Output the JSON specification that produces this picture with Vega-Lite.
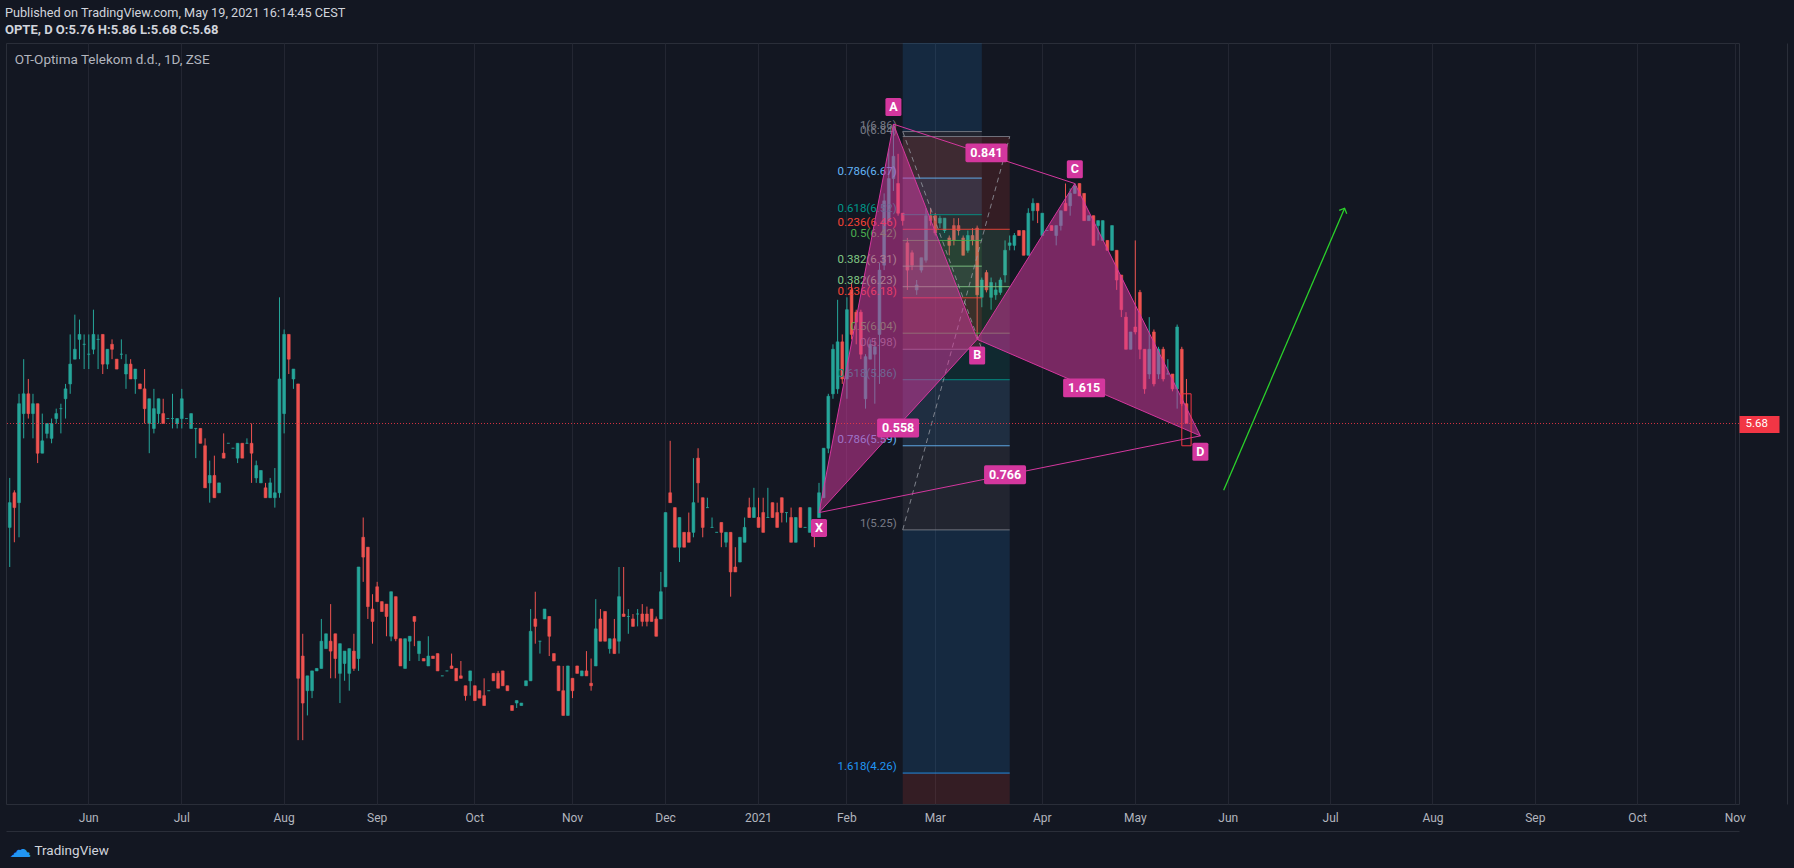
{
"$schema": "https://vega.github.io/schema/vega-lite/v6.json",
"autosize": {"type": "none"},
"width": 1733,
"height": 761,
"padding": {"left": 6, "top": 43, "right": 55, "bottom": 64},
"background": "#131722",
"config": {"view": {"stroke": "#2a2e39", "strokeWidth": 1}, "font": "Roboto"},
"title": {"text": "Published on TradingView.com, May 19, 2021 16:14:45 CEST", "subtitle": "OPTE, D  O:5.76  H:5.86  L:5.68  C:5.68", "anchor": "start", "frame": "group", "orient": "top", "offset": 6, "dx": -1, "font": "Roboto", "fontSize": 12.7, "fontWeight": "normal", "color": "#d1d4dc", "subtitleFont": "Roboto", "subtitleFontSize": 13, "subtitleFontWeight": "bold", "subtitleColor": "#d1d4dc", "subtitlePadding": 4},
"datasets": {
"candles": [
{"d":"2020-05-07","o":5.26,"h":5.46,"l":5.10,"c":5.36},
{"d":"2020-05-08","o":5.40,"h":5.41,"l":5.20,"c":5.34},
{"d":"2020-05-11","o":5.36,"h":5.80,"l":5.22,"c":5.76},
{"d":"2020-05-12","o":5.72,"h":5.94,"l":5.62,"c":5.80},
{"d":"2020-05-13","o":5.80,"h":5.86,"l":5.70,"c":5.72},
{"d":"2020-05-14","o":5.72,"h":5.80,"l":5.62,"c":5.76},
{"d":"2020-05-15","o":5.76,"h":5.76,"l":5.52,"c":5.56},
{"d":"2020-05-18","o":5.56,"h":5.72,"l":5.56,"c":5.61},
{"d":"2020-05-19","o":5.64,"h":5.68,"l":5.62,"c":5.68},
{"d":"2020-05-20","o":5.62,"h":5.70,"l":5.60,"c":5.68},
{"d":"2020-05-21","o":5.70,"h":5.74,"l":5.68,"c":5.72},
{"d":"2020-05-22","o":5.74,"h":5.76,"l":5.64,"c":5.74},
{"d":"2020-05-25","o":5.78,"h":5.84,"l":5.70,"c":5.82},
{"d":"2020-05-26","o":5.84,"h":6.04,"l":5.80,"c":5.92},
{"d":"2020-05-27","o":5.94,"h":6.12,"l":5.94,"c":5.98},
{"d":"2020-05-28","o":6.02,"h":6.10,"l":5.94,"c":6.04},
{"d":"2020-05-29","o":6.00,"h":6.04,"l":5.90,"c":6.00},
{"d":"2020-06-01","o":5.96,"h":6.04,"l":5.90,"c":5.96},
{"d":"2020-06-02","o":5.98,"h":6.14,"l":5.96,"c":6.04},
{"d":"2020-06-03","o":6.02,"h":6.04,"l":5.90,"c":6.02},
{"d":"2020-06-04","o":6.04,"h":6.04,"l":5.88,"c":5.92},
{"d":"2020-06-05","o":5.92,"h":5.98,"l":5.90,"c":5.98},
{"d":"2020-06-08","o":6.00,"h":6.02,"l":5.94,"c":5.98},
{"d":"2020-06-09","o":5.94,"h":5.94,"l":5.90,"c":5.90},
{"d":"2020-06-10","o":5.96,"h":6.02,"l":5.94,"c":5.96},
{"d":"2020-06-12","o":5.88,"h":5.96,"l":5.82,"c":5.92},
{"d":"2020-06-15","o":5.92,"h":5.94,"l":5.86,"c":5.86},
{"d":"2020-06-16","o":5.86,"h":5.90,"l":5.80,"c":5.90},
{"d":"2020-06-17","o":5.84,"h":5.84,"l":5.82,"c":5.82},
{"d":"2020-06-18","o":5.82,"h":5.90,"l":5.68,"c":5.74},
{"d":"2020-06-19","o":5.68,"h":5.78,"l":5.56,"c":5.78},
{"d":"2020-06-23","o":5.66,"h":5.82,"l":5.64,"c":5.74},
{"d":"2020-06-24","o":5.72,"h":5.78,"l":5.68,"c":5.78},
{"d":"2020-06-25","o":5.72,"h":5.78,"l":5.68,"c":5.68},
{"d":"2020-06-26","o":5.70,"h":5.70,"l":5.70,"c":5.70},
{"d":"2020-06-29","o":5.70,"h":5.80,"l":5.66,"c":5.70},
{"d":"2020-06-30","o":5.68,"h":5.70,"l":5.66,"c":5.70},
{"d":"2020-07-01","o":5.70,"h":5.82,"l":5.66,"c":5.78},
{"d":"2020-07-02","o":5.70,"h":5.70,"l":5.70,"c":5.70},
{"d":"2020-07-03","o":5.66,"h":5.72,"l":5.66,"c":5.72},
{"d":"2020-07-06","o":5.66,"h":5.66,"l":5.54,"c":5.66},
{"d":"2020-07-07","o":5.66,"h":5.66,"l":5.60,"c":5.60},
{"d":"2020-07-08","o":5.59,"h":5.62,"l":5.42,"c":5.42},
{"d":"2020-07-09","o":5.44,"h":5.53,"l":5.36,"c":5.47},
{"d":"2020-07-10","o":5.47,"h":5.55,"l":5.38,"c":5.38},
{"d":"2020-07-13","o":5.40,"h":5.44,"l":5.40,"c":5.44},
{"d":"2020-07-14","o":5.56,"h":5.64,"l":5.54,"c":5.54},
{"d":"2020-07-15","o":5.60,"h":5.60,"l":5.60,"c":5.60},
{"d":"2020-07-16","o":5.58,"h":5.58,"l":5.58,"c":5.58},
{"d":"2020-07-20","o":5.54,"h":5.60,"l":5.52,"c":5.60},
{"d":"2020-07-21","o":5.60,"h":5.60,"l":5.54,"c":5.54},
{"d":"2020-07-22","o":5.60,"h":5.62,"l":5.60,"c":5.60},
{"d":"2020-07-23","o":5.60,"h":5.68,"l":5.44,"c":5.56},
{"d":"2020-07-24","o":5.46,"h":5.53,"l":5.44,"c":5.51},
{"d":"2020-07-27","o":5.44,"h":5.49,"l":5.44,"c":5.49},
{"d":"2020-07-28","o":5.42,"h":5.44,"l":5.38,"c":5.38},
{"d":"2020-07-29","o":5.38,"h":5.46,"l":5.38,"c":5.44},
{"d":"2020-07-30","o":5.38,"h":5.50,"l":5.34,"c":5.40},
{"d":"2020-07-31","o":5.40,"h":6.19,"l":5.38,"c":5.86},
{"d":"2020-08-03","o":5.72,"h":6.06,"l":5.64,"c":6.04},
{"d":"2020-08-04","o":6.04,"h":6.04,"l":5.88,"c":5.94},
{"d":"2020-08-06","o":5.86,"h":5.90,"l":5.82,"c":5.90},
{"d":"2020-08-07","o":5.84,"h":5.84,"l":4.40,"c":4.65},
{"d":"2020-08-10","o":4.74,"h":4.83,"l":4.40,"c":4.55},
{"d":"2020-08-11","o":4.60,"h":4.66,"l":4.50,"c":4.66},
{"d":"2020-08-12","o":4.60,"h":4.68,"l":4.57,"c":4.68},
{"d":"2020-08-13","o":4.68,"h":4.69,"l":4.68,"c":4.69},
{"d":"2020-08-14","o":4.69,"h":4.89,"l":4.69,"c":4.80},
{"d":"2020-08-17","o":4.77,"h":4.83,"l":4.77,"c":4.83},
{"d":"2020-08-18","o":4.80,"h":4.95,"l":4.65,"c":4.76},
{"d":"2020-08-19","o":4.83,"h":4.83,"l":4.65,"c":4.73},
{"d":"2020-08-20","o":4.67,"h":4.79,"l":4.55,"c":4.79},
{"d":"2020-08-21","o":4.71,"h":4.76,"l":4.64,"c":4.76},
{"d":"2020-08-24","o":4.67,"h":4.77,"l":4.60,"c":4.77},
{"d":"2020-08-25","o":4.76,"h":4.83,"l":4.68,"c":4.69},
{"d":"2020-08-26","o":4.73,"h":5.10,"l":4.68,"c":5.10},
{"d":"2020-08-27","o":5.22,"h":5.30,"l":5.04,"c":5.14},
{"d":"2020-08-28","o":5.18,"h":5.18,"l":4.89,"c":4.94},
{"d":"2020-08-31","o":4.93,"h":4.99,"l":4.79,"c":4.88},
{"d":"2020-09-01","o":5.02,"h":5.04,"l":4.96,"c":4.96},
{"d":"2020-09-02","o":4.96,"h":4.96,"l":4.92,"c":4.92},
{"d":"2020-09-03","o":4.95,"h":4.95,"l":4.82,"c":4.90},
{"d":"2020-09-04","o":4.82,"h":5.00,"l":4.80,"c":5.00},
{"d":"2020-09-07","o":4.98,"h":4.98,"l":4.80,"c":4.81},
{"d":"2020-09-08","o":4.81,"h":4.81,"l":4.70,"c":4.70},
{"d":"2020-09-09","o":4.69,"h":4.81,"l":4.69,"c":4.81},
{"d":"2020-09-10","o":4.80,"h":4.82,"l":4.72,"c":4.82},
{"d":"2020-09-11","o":4.90,"h":4.90,"l":4.78,"c":4.88},
{"d":"2020-09-14","o":4.75,"h":4.80,"l":4.72,"c":4.80},
{"d":"2020-09-16","o":4.73,"h":4.73,"l":4.72,"c":4.72},
{"d":"2020-09-17","o":4.70,"h":4.82,"l":4.70,"c":4.74},
{"d":"2020-09-18","o":4.74,"h":4.74,"l":4.73,"c":4.73},
{"d":"2020-09-21","o":4.75,"h":4.75,"l":4.68,"c":4.68},
{"d":"2020-09-22","o":4.66,"h":4.66,"l":4.66,"c":4.66},
{"d":"2020-09-23","o":4.68,"h":4.68,"l":4.68,"c":4.68},
{"d":"2020-09-24","o":4.70,"h":4.75,"l":4.69,"c":4.69},
{"d":"2020-09-25","o":4.69,"h":4.69,"l":4.64,"c":4.64},
{"d":"2020-09-28","o":4.66,"h":4.72,"l":4.65,"c":4.65},
{"d":"2020-09-29","o":4.62,"h":4.62,"l":4.56,"c":4.58},
{"d":"2020-09-30","o":4.64,"h":4.68,"l":4.58,"c":4.68},
{"d":"2020-10-01","o":4.62,"h":4.62,"l":4.56,"c":4.56},
{"d":"2020-10-02","o":4.60,"h":4.60,"l":4.57,"c":4.57},
{"d":"2020-10-05","o":4.58,"h":4.65,"l":4.54,"c":4.54},
{"d":"2020-10-06","o":4.60,"h":4.60,"l":4.60,"c":4.60},
{"d":"2020-10-07","o":4.67,"h":4.67,"l":4.64,"c":4.64},
{"d":"2020-10-08","o":4.67,"h":4.68,"l":4.61,"c":4.61},
{"d":"2020-10-09","o":4.68,"h":4.68,"l":4.62,"c":4.62},
{"d":"2020-10-12","o":4.62,"h":4.62,"l":4.60,"c":4.60},
{"d":"2020-10-13","o":4.54,"h":4.54,"l":4.52,"c":4.52},
{"d":"2020-10-14","o":4.55,"h":4.56,"l":4.53,"c":4.56},
{"d":"2020-10-15","o":4.54,"h":4.55,"l":4.54,"c":4.55},
{"d":"2020-10-16","o":4.62,"h":4.64,"l":4.62,"c":4.64},
{"d":"2020-10-19","o":4.64,"h":4.93,"l":4.64,"c":4.84},
{"d":"2020-10-21","o":4.89,"h":5.00,"l":4.79,"c":4.86},
{"d":"2020-10-22","o":4.80,"h":4.80,"l":4.75,"c":4.80},
{"d":"2020-10-23","o":4.89,"h":4.93,"l":4.89,"c":4.93},
{"d":"2020-10-26","o":4.90,"h":4.90,"l":4.74,"c":4.82},
{"d":"2020-10-27","o":4.75,"h":4.75,"l":4.72,"c":4.72},
{"d":"2020-10-28","o":4.70,"h":4.70,"l":4.60,"c":4.60},
{"d":"2020-10-29","o":4.60,"h":4.70,"l":4.50,"c":4.50},
{"d":"2020-10-30","o":4.50,"h":4.70,"l":4.50,"c":4.70},
{"d":"2020-11-02","o":4.65,"h":4.65,"l":4.57,"c":4.60},
{"d":"2020-11-03","o":4.70,"h":4.70,"l":4.67,"c":4.67},
{"d":"2020-11-04","o":4.66,"h":4.68,"l":4.66,"c":4.68},
{"d":"2020-11-05","o":4.68,"h":4.76,"l":4.66,"c":4.66},
{"d":"2020-11-06","o":4.63,"h":4.73,"l":4.60,"c":4.62},
{"d":"2020-11-09","o":4.70,"h":4.97,"l":4.70,"c":4.85},
{"d":"2020-11-10","o":4.89,"h":4.93,"l":4.80,"c":4.80},
{"d":"2020-11-11","o":4.92,"h":4.92,"l":4.80,"c":4.80},
{"d":"2020-11-12","o":4.77,"h":4.81,"l":4.75,"c":4.81},
{"d":"2020-11-13","o":4.81,"h":4.89,"l":4.75,"c":4.75},
{"d":"2020-11-16","o":4.80,"h":5.10,"l":4.75,"c":4.98},
{"d":"2020-11-17","o":4.91,"h":5.10,"l":4.90,"c":4.90},
{"d":"2020-11-19","o":4.90,"h":4.93,"l":4.83,"c":4.90},
{"d":"2020-11-20","o":4.89,"h":4.91,"l":4.86,"c":4.86},
{"d":"2020-11-23","o":4.91,"h":4.93,"l":4.86,"c":4.91},
{"d":"2020-11-24","o":4.91,"h":4.95,"l":4.86,"c":4.88},
{"d":"2020-11-25","o":4.91,"h":4.94,"l":4.86,"c":4.88},
{"d":"2020-11-26","o":4.93,"h":4.93,"l":4.88,"c":4.88},
{"d":"2020-11-27","o":4.89,"h":4.90,"l":4.82,"c":4.82},
{"d":"2020-11-30","o":4.89,"h":5.08,"l":4.89,"c":5.00},
{"d":"2020-12-01","o":5.02,"h":5.32,"l":5.02,"c":5.32},
{"d":"2020-12-02","o":5.40,"h":5.61,"l":5.36,"c":5.36},
{"d":"2020-12-03","o":5.34,"h":5.34,"l":5.18,"c":5.18},
{"d":"2020-12-04","o":5.18,"h":5.30,"l":5.12,"c":5.30},
{"d":"2020-12-07","o":5.24,"h":5.24,"l":5.18,"c":5.18},
{"d":"2020-12-08","o":5.24,"h":5.32,"l":5.20,"c":5.20},
{"d":"2020-12-09","o":5.24,"h":5.54,"l":5.22,"c":5.36},
{"d":"2020-12-10","o":5.54,"h":5.58,"l":5.36,"c":5.44},
{"d":"2020-12-11","o":5.38,"h":5.38,"l":5.22,"c":5.26},
{"d":"2020-12-14","o":5.34,"h":5.38,"l":5.34,"c":5.34},
{"d":"2020-12-15","o":5.26,"h":5.30,"l":5.26,"c":5.26},
{"d":"2020-12-16","o":5.24,"h":5.24,"l":5.24,"c":5.24},
{"d":"2020-12-17","o":5.28,"h":5.28,"l":5.18,"c":5.24},
{"d":"2020-12-18","o":5.20,"h":5.24,"l":5.18,"c":5.24},
{"d":"2020-12-21","o":5.24,"h":5.24,"l":4.98,"c":5.08},
{"d":"2020-12-22","o":5.10,"h":5.18,"l":5.08,"c":5.08},
{"d":"2020-12-23","o":5.12,"h":5.22,"l":5.12,"c":5.22},
{"d":"2020-12-28","o":5.20,"h":5.30,"l":5.20,"c":5.26},
{"d":"2020-12-29","o":5.34,"h":5.38,"l":5.30,"c":5.30},
{"d":"2020-12-30","o":5.30,"h":5.42,"l":5.30,"c":5.34},
{"d":"2021-01-04","o":5.30,"h":5.38,"l":5.26,"c":5.26},
{"d":"2021-01-05","o":5.32,"h":5.38,"l":5.24,"c":5.24},
{"d":"2021-01-07","o":5.30,"h":5.42,"l":5.30,"c":5.30},
{"d":"2021-01-08","o":5.36,"h":5.36,"l":5.30,"c":5.30},
{"d":"2021-01-11","o":5.32,"h":5.36,"l":5.26,"c":5.26},
{"d":"2021-01-12","o":5.38,"h":5.38,"l":5.28,"c":5.32},
{"d":"2021-01-13","o":5.32,"h":5.32,"l":5.28,"c":5.32},
{"d":"2021-01-14","o":5.30,"h":5.34,"l":5.20,"c":5.20},
{"d":"2021-01-15","o":5.20,"h":5.30,"l":5.20,"c":5.30},
{"d":"2021-01-18","o":5.34,"h":5.34,"l":5.26,"c":5.26},
{"d":"2021-01-19","o":5.26,"h":5.26,"l":5.26,"c":5.26},
{"d":"2021-01-20","o":5.24,"h":5.34,"l":5.24,"c":5.34},
{"d":"2021-01-21","o":5.28,"h":5.28,"l":5.18,"c":5.24},
{"d":"2021-01-22","o":5.30,"h":5.44,"l":5.30,"c":5.40},
{"d":"2021-01-25","o":5.38,"h":5.58,"l":5.38,"c":5.58},
{"d":"2021-01-26","o":5.58,"h":5.80,"l":5.56,"c":5.79},
{"d":"2021-01-27","o":5.80,"h":6.00,"l":5.78,"c":5.98},
{"d":"2021-01-28","o":5.82,"h":6.18,"l":5.80,"c":6.01},
{"d":"2021-01-29","o":6.01,"h":6.04,"l":5.84,"c":5.86},
{"d":"2021-02-01","o":5.86,"h":6.19,"l":5.78,"c":6.14},
{"d":"2021-02-02","o":6.22,"h":6.25,"l":6.02,"c":6.04},
{"d":"2021-02-03","o":6.13,"h":6.14,"l":6.00,"c":6.09},
{"d":"2021-02-04","o":6.13,"h":6.14,"l":5.94,"c":5.96},
{"d":"2021-02-05","o":5.78,"h":5.96,"l":5.74,"c":5.95},
{"d":"2021-02-08","o":5.94,"h":6.02,"l":5.94,"c":6.00},
{"d":"2021-02-09","o":5.96,"h":6.02,"l":5.76,"c":5.99},
{"d":"2021-02-10","o":6.04,"h":6.33,"l":5.84,"c":6.30},
{"d":"2021-02-11","o":6.32,"h":6.61,"l":6.30,"c":6.58},
{"d":"2021-02-12","o":6.50,"h":6.79,"l":6.50,"c":6.67},
{"d":"2021-02-15","o":6.67,"h":6.89,"l":6.62,"c":6.76},
{"d":"2021-02-17","o":6.65,"h":6.77,"l":6.52,"c":6.53},
{"d":"2021-02-18","o":6.53,"h":6.53,"l":6.48,"c":6.50},
{"d":"2021-02-19","o":6.41,"h":6.43,"l":6.22,"c":6.30},
{"d":"2021-02-22","o":6.37,"h":6.38,"l":6.30,"c":6.32},
{"d":"2021-02-23","o":6.22,"h":6.26,"l":6.20,"c":6.24},
{"d":"2021-02-24","o":6.30,"h":6.35,"l":6.29,"c":6.35},
{"d":"2021-02-25","o":6.34,"h":6.55,"l":6.33,"c":6.52},
{"d":"2021-02-26","o":6.52,"h":6.55,"l":6.48,"c":6.50},
{"d":"2021-03-01","o":6.52,"h":6.53,"l":6.44,"c":6.45},
{"d":"2021-03-02","o":6.49,"h":6.52,"l":6.47,"c":6.51},
{"d":"2021-03-03","o":6.46,"h":6.51,"l":6.45,"c":6.51},
{"d":"2021-03-04","o":6.43,"h":6.44,"l":6.36,"c":6.40},
{"d":"2021-03-05","o":6.48,"h":6.51,"l":6.40,"c":6.42},
{"d":"2021-03-08","o":6.48,"h":6.51,"l":6.44,"c":6.46},
{"d":"2021-03-09","o":6.43,"h":6.44,"l":6.36,"c":6.36},
{"d":"2021-03-10","o":6.38,"h":6.46,"l":6.37,"c":6.44},
{"d":"2021-03-11","o":6.44,"h":6.47,"l":6.40,"c":6.42},
{"d":"2021-03-12","o":6.47,"h":6.48,"l":6.02,"c":6.20},
{"d":"2021-03-15","o":6.19,"h":6.27,"l":6.15,"c":6.26},
{"d":"2021-03-16","o":6.29,"h":6.30,"l":6.21,"c":6.22},
{"d":"2021-03-17","o":6.19,"h":6.27,"l":6.14,"c":6.25},
{"d":"2021-03-18","o":6.20,"h":6.25,"l":6.18,"c":6.22},
{"d":"2021-03-19","o":6.21,"h":6.27,"l":6.20,"c":6.26},
{"d":"2021-03-22","o":6.28,"h":6.42,"l":6.25,"c":6.38},
{"d":"2021-03-23","o":6.40,"h":6.44,"l":6.38,"c":6.41},
{"d":"2021-03-24","o":6.40,"h":6.45,"l":6.38,"c":6.44},
{"d":"2021-03-25","o":6.46,"h":6.46,"l":6.44,"c":6.44},
{"d":"2021-03-26","o":6.46,"h":6.46,"l":6.36,"c":6.36},
{"d":"2021-03-29","o":6.36,"h":6.55,"l":6.36,"c":6.53},
{"d":"2021-03-30","o":6.54,"h":6.59,"l":6.50,"c":6.57},
{"d":"2021-03-31","o":6.57,"h":6.57,"l":6.49,"c":6.54},
{"d":"2021-04-01","o":6.44,"h":6.53,"l":6.44,"c":6.53},
{"d":"2021-04-06","o":6.46,"h":6.46,"l":6.46,"c":6.46},
{"d":"2021-04-07","o":6.48,"h":6.48,"l":6.46,"c":6.46},
{"d":"2021-04-08","o":6.44,"h":6.48,"l":6.40,"c":6.48},
{"d":"2021-04-09","o":6.48,"h":6.54,"l":6.46,"c":6.54},
{"d":"2021-04-12","o":6.57,"h":6.65,"l":6.54,"c":6.54},
{"d":"2021-04-13","o":6.56,"h":6.63,"l":6.52,"c":6.61},
{"d":"2021-04-14","o":6.61,"h":6.65,"l":6.61,"c":6.64},
{"d":"2021-04-15","o":6.65,"h":6.65,"l":6.60,"c":6.60},
{"d":"2021-04-16","o":6.61,"h":6.61,"l":6.50,"c":6.50},
{"d":"2021-04-19","o":6.50,"h":6.52,"l":6.50,"c":6.52},
{"d":"2021-04-20","o":6.52,"h":6.52,"l":6.40,"c":6.40},
{"d":"2021-04-21","o":6.48,"h":6.50,"l":6.42,"c":6.50},
{"d":"2021-04-22","o":6.42,"h":6.50,"l":6.42,"c":6.50},
{"d":"2021-04-23","o":6.42,"h":6.42,"l":6.38,"c":6.38},
{"d":"2021-04-26","o":6.38,"h":6.48,"l":6.38,"c":6.48},
{"d":"2021-04-27","o":6.38,"h":6.38,"l":6.22,"c":6.26},
{"d":"2021-04-28","o":6.28,"h":6.28,"l":6.11,"c":6.14},
{"d":"2021-04-29","o":6.11,"h":6.13,"l":5.98,"c":5.98},
{"d":"2021-04-30","o":5.98,"h":6.05,"l":5.98,"c":6.05},
{"d":"2021-05-03","o":6.07,"h":6.42,"l":6.04,"c":6.05},
{"d":"2021-05-04","o":6.21,"h":6.22,"l":5.94,"c":5.98},
{"d":"2021-05-05","o":5.98,"h":5.98,"l":5.80,"c":5.82},
{"d":"2021-05-06","o":5.88,"h":6.11,"l":5.86,"c":5.98},
{"d":"2021-05-10","o":6.05,"h":6.06,"l":5.83,"c":5.84},
{"d":"2021-05-11","o":5.88,"h":5.99,"l":5.86,"c":5.98},
{"d":"2021-05-12","o":5.98,"h":5.99,"l":5.85,"c":5.86},
{"d":"2021-05-13","o":5.88,"h":5.94,"l":5.88,"c":5.88},
{"d":"2021-05-14","o":5.88,"h":5.88,"l":5.81,"c":5.82},
{"d":"2021-05-17","o":5.82,"h":6.08,"l":5.74,"c":6.07},
{"d":"2021-05-18","o":5.98,"h":5.99,"l":5.75,"c":5.76},
{"d":"2021-05-19","o":5.76,"h":5.86,"l":5.68,"c":5.68}
],
"future": [
{"d":"2021-05-20"},{"d":"2021-05-21"},{"d":"2021-05-24"},{"d":"2021-05-25"},{"d":"2021-05-26"},{"d":"2021-05-27"},{"d":"2021-05-28"},{"d":"2021-05-31"},
{"d":"2021-06-01"},{"d":"2021-06-02"},{"d":"2021-06-03"},{"d":"2021-06-04"},{"d":"2021-06-07"},{"d":"2021-06-08"},{"d":"2021-06-09"},{"d":"2021-06-10"},{"d":"2021-06-11"},{"d":"2021-06-14"},{"d":"2021-06-15"},{"d":"2021-06-16"},{"d":"2021-06-17"},{"d":"2021-06-18"},{"d":"2021-06-21"},{"d":"2021-06-22"},{"d":"2021-06-23"},{"d":"2021-06-24"},{"d":"2021-06-25"},{"d":"2021-06-28"},{"d":"2021-06-29"},{"d":"2021-06-30"},
{"d":"2021-07-01"},{"d":"2021-07-02"},{"d":"2021-07-05"},{"d":"2021-07-06"},{"d":"2021-07-07"},{"d":"2021-07-08"},{"d":"2021-07-09"},{"d":"2021-07-12"},{"d":"2021-07-13"},{"d":"2021-07-14"},{"d":"2021-07-15"},{"d":"2021-07-16"},{"d":"2021-07-19"},{"d":"2021-07-20"},{"d":"2021-07-21"},{"d":"2021-07-22"},{"d":"2021-07-23"},{"d":"2021-07-26"},{"d":"2021-07-27"},{"d":"2021-07-28"},{"d":"2021-07-29"},{"d":"2021-07-30"},
{"d":"2021-08-02"},{"d":"2021-08-03"},{"d":"2021-08-04"},{"d":"2021-08-05"},{"d":"2021-08-06"},{"d":"2021-08-09"},{"d":"2021-08-10"},{"d":"2021-08-11"},{"d":"2021-08-12"},{"d":"2021-08-13"},{"d":"2021-08-16"},{"d":"2021-08-17"},{"d":"2021-08-18"},{"d":"2021-08-19"},{"d":"2021-08-20"},{"d":"2021-08-23"},{"d":"2021-08-24"},{"d":"2021-08-25"},{"d":"2021-08-26"},{"d":"2021-08-27"},{"d":"2021-08-30"},{"d":"2021-08-31"},
{"d":"2021-09-01"},{"d":"2021-09-02"},{"d":"2021-09-03"},{"d":"2021-09-06"},{"d":"2021-09-07"},{"d":"2021-09-08"},{"d":"2021-09-09"},{"d":"2021-09-10"},{"d":"2021-09-13"},{"d":"2021-09-14"},{"d":"2021-09-15"},{"d":"2021-09-16"},{"d":"2021-09-17"},{"d":"2021-09-20"},{"d":"2021-09-21"},{"d":"2021-09-22"},{"d":"2021-09-23"},{"d":"2021-09-24"},{"d":"2021-09-27"},{"d":"2021-09-28"},{"d":"2021-09-29"},{"d":"2021-09-30"},
{"d":"2021-10-01"},{"d":"2021-10-04"},{"d":"2021-10-05"},{"d":"2021-10-06"},{"d":"2021-10-07"},{"d":"2021-10-08"},{"d":"2021-10-11"},{"d":"2021-10-12"},{"d":"2021-10-13"},{"d":"2021-10-14"},{"d":"2021-10-15"},{"d":"2021-10-18"},{"d":"2021-10-19"},{"d":"2021-10-20"},{"d":"2021-10-21"},{"d":"2021-10-22"},{"d":"2021-10-25"},{"d":"2021-10-26"},{"d":"2021-10-27"},{"d":"2021-10-28"},{"d":"2021-10-29"},
{"d":"2021-11-01"}
],
"last": [{"p": 5.68}],
"fibBands": [
{"d":"2021-02-18","d2":"2021-03-23","p1":6.84,"p2":6.465,"lvl":"0.236"},
{"d":"2021-02-18","d2":"2021-03-23","p1":6.465,"p2":6.233,"lvl":"0.382"},
{"d":"2021-02-18","d2":"2021-03-23","p1":6.233,"p2":6.045,"lvl":"0.5"},
{"d":"2021-02-18","d2":"2021-03-23","p1":6.045,"p2":5.857,"lvl":"0.618"},
{"d":"2021-02-18","d2":"2021-03-23","p1":5.857,"p2":5.59,"lvl":"0.786"},
{"d":"2021-02-18","d2":"2021-03-23","p1":5.59,"p2":5.25,"lvl":"1"},
{"d":"2021-02-18","d2":"2021-03-23","p1":5.25,"p2":4.267,"lvl":"1.618"},
{"d":"2021-02-18","d2":"2021-03-23","p1":4.267,"p2":2.677,"lvl":"2.618"},
{"d":"2021-02-18","d2":"2021-03-15","p1":5.98,"p2":6.188,"lvl":"0.236"},
{"d":"2021-02-18","d2":"2021-03-15","p1":6.188,"p2":6.316,"lvl":"0.382"},
{"d":"2021-02-18","d2":"2021-03-15","p1":6.316,"p2":6.42,"lvl":"0.5"},
{"d":"2021-02-18","d2":"2021-03-15","p1":6.42,"p2":6.524,"lvl":"0.618"},
{"d":"2021-02-18","d2":"2021-03-15","p1":6.524,"p2":6.672,"lvl":"0.786"},
{"d":"2021-02-18","d2":"2021-03-15","p1":6.672,"p2":6.86,"lvl":"1"},
{"d":"2021-02-18","d2":"2021-03-15","p1":6.86,"p2":7.404,"lvl":"1.618"}
],
"fibLines": [
{"d":"2021-02-18","d2":"2021-03-23","p":6.84,"lvl":"0","t":"0(6.84)"},
{"d":"2021-02-18","d2":"2021-03-23","p":6.465,"lvl":"0.236","t":"0.236(6.46)"},
{"d":"2021-02-18","d2":"2021-03-23","p":6.233,"lvl":"0.382","t":"0.382(6.23)"},
{"d":"2021-02-18","d2":"2021-03-23","p":6.045,"lvl":"0.5","t":"0.5(6.04)"},
{"d":"2021-02-18","d2":"2021-03-23","p":5.857,"lvl":"0.618","t":"0.618(5.86)"},
{"d":"2021-02-18","d2":"2021-03-23","p":5.59,"lvl":"0.786","t":"0.786(5.59)"},
{"d":"2021-02-18","d2":"2021-03-23","p":5.25,"lvl":"1","t":"1(5.25)"},
{"d":"2021-02-18","d2":"2021-03-23","p":4.267,"lvl":"1.618","t":"1.618(4.26)"},
{"d":"2021-02-18","d2":"2021-03-15","p":5.98,"lvl":"0","t":"0(5.98)"},
{"d":"2021-02-18","d2":"2021-03-15","p":6.188,"lvl":"0.236","t":"0.236(6.18)"},
{"d":"2021-02-18","d2":"2021-03-15","p":6.316,"lvl":"0.382","t":"0.382(6.31)"},
{"d":"2021-02-18","d2":"2021-03-15","p":6.42,"lvl":"0.5","t":"0.5(6.42)"},
{"d":"2021-02-18","d2":"2021-03-15","p":6.524,"lvl":"0.618","t":"0.618(6.52)"},
{"d":"2021-02-18","d2":"2021-03-15","p":6.672,"lvl":"0.786","t":"0.786(6.67)"},
{"d":"2021-02-18","d2":"2021-03-15","p":6.86,"lvl":"1","t":"1(6.86)"}
],
"fibTrend": [
{"d":"2021-02-18","d2":"2021-03-23","p":5.25,"p2":6.84},
{"d":"2021-02-18","d2":"2021-03-15","p":6.86,"p2":5.98}
],
"tri": [
{"g":"XAB","k":0,"d":"2021-01-22","p":5.32},
{"g":"XAB","k":1,"d":"2021-02-15","p":6.89},
{"g":"XAB","k":2,"d":"2021-03-12","p":6.02},
{"g":"XAB","k":3,"d":"2021-01-22","p":5.32},
{"g":"BCD","k":0,"d":"2021-03-12","p":6.02},
{"g":"BCD","k":1,"d":"2021-04-14","p":6.65},
{"g":"BCD","k":2,"d":"2021-05-24","p":5.63},
{"g":"BCD","k":3,"d":"2021-03-12","p":6.02}
],
"legs": [
{"d":"2021-02-15","d2":"2021-04-14","p":6.89,"p2":6.65},
{"d":"2021-01-22","d2":"2021-05-24","p":5.32,"p2":5.63}
],
"tags": [
{"kind":"letter","t":"X","d":"2021-01-22","p":5.258},
{"kind":"letter","t":"A","d":"2021-02-15","p":6.959},
{"kind":"letter","t":"B","d":"2021-03-12","p":5.955},
{"kind":"letter","t":"C","d":"2021-04-14","p":6.708},
{"kind":"letter","t":"D","d":"2021-05-24","p":5.566},
{"kind":"ratio","t":"0.558","d":"2021-02-17","p":5.662},
{"kind":"ratio","t":"0.841","d":"2021-03-16","p":6.774},
{"kind":"ratio","t":"1.615","d":"2021-04-16","p":5.824},
{"kind":"ratio","t":"0.766","d":"2021-03-22","p":5.473}
],
"box": [
{"k":0,"d":"2021-05-18","p":5.80},
{"k":1,"d":"2021-05-20","p":5.80},
{"k":2,"d":"2021-05-20","p":5.59},
{"k":3,"d":"2021-05-18","p":5.59},
{"k":4,"d":"2021-05-18","p":5.80}
],
"arrow": [{"d":"2021-05-31","d2":"2021-07-06","p":5.41,"p2":6.55}],
"caption": [{"d":"2020-05-07","p":7.15,"t":"OT-Optima Telekom d.d., 1D, ZSE"}]
},
"resolve": {"axis": {"x": "independent", "y": "independent"}},
"layer": [
{
"data": {"name": "candles"},
"mark": {"type": "rule", "strokeWidth": 1},
"encoding": {
"x": {"field": "d", "type": "ordinal", "scale": {"type": "band", "paddingInner": 0.4, "paddingOuter": 0.5},
"axis": {"orient": "bottom", "values": ["2020-06-01","2020-07-01","2020-08-03","2020-09-01","2020-10-01","2020-11-02","2020-12-01","2021-01-04","2021-02-01","2021-03-01","2021-04-01","2021-05-03","2021-06-01","2021-07-01","2021-08-02","2021-09-01","2021-10-01","2021-11-01"],
"labelExpr": "datum.value == '2021-01-04' ? '2021' : ['Jan','Feb','Mar','Apr','May','Jun','Jul','Aug','Sep','Oct','Nov','Dec'][toNumber(substring(datum.value, 5, 7)) - 1]",
"domain": false, "ticks": false, "grid": true, "gridColor": "#232632", "gridWidth": 1, "bandPosition": 0.5,
"labelColor": "#b2b5be", "labelFont": "Roboto", "labelFontSize": 12, "labelPadding": 8, "labelAngle": 0,
"title": "TradingView", "titleX": 28, "titleY": 46, "titleAlign": "left", "titleAnchor": "start", "titleBaseline": "middle", "titleColor": "#d1d4dc", "titleFont": "Roboto", "titleFontSize": 13.5, "titleFontWeight": "normal", "zindex": 0}},
"y": {"field": "l", "type": "quantitative", "scale": {"domain": [4.142, 7.218], "nice": false, "zero": false},
"axis": {"orient": "right", "values": [5.68], "format": ".2f", "domain": false, "grid": false, "ticks": true, "tickSize": 40, "tickWidth": 17, "tickColor": "#f23645", "labelColor": "#ffffff", "labelFont": "Roboto", "labelFontSize": 11.5, "labelPadding": -34, "labelAlign": "left", "labelBaseline": "middle", "title": null, "zindex": 1}},
"y2": {"field": "h"},
"color": {"condition": {"test": "datum.c >= datum.o", "value": "#26a69a"}, "value": "#ef5350"}
}
},
{
"data": {"name": "candles"},
"mark": {"type": "bar", "strokeWidth": 0.6},
"encoding": {
"x": {"field": "d", "type": "ordinal", "axis": {"orient": "bottom", "offset": 27, "values": [], "domain": true, "domainColor": "#2a2e39", "ticks": false, "labels": false, "grid": false, "title": "☁", "titleX": 14, "titleY": 18, "titleAlign": "center", "titleAnchor": "start", "titleBaseline": "middle", "titleColor": "#2196f3", "titleFont": "DejaVu Sans", "titleFontSize": 22, "titleFontWeight": "normal"}},
"y": {"field": "o", "type": "quantitative", "axis": null},
"y2": {"field": "c"},
"fill": {"condition": {"test": "datum.c >= datum.o", "value": "#26a69a"}, "value": "#ef5350"},
"stroke": {"condition": {"test": "datum.c >= datum.o", "value": "#26a69a"}, "value": "#ef5350"}
}
},
{
"data": {"name": "future"},
"mark": {"type": "tick", "opacity": 0},
"encoding": {"x": {"field": "d", "type": "ordinal", "axis": null}}
},
{
"data": {"name": "fibBands"},
"mark": {"type": "rect", "clip": true, "opacity": 0.15},
"encoding": {
"x": {"field": "d", "type": "ordinal", "axis": null},
"x2": {"field": "d2"},
"y": {"field": "p1", "type": "quantitative", "axis": null},
"y2": {"field": "p2"},
"fill": {"field": "lvl", "type": "nominal", "legend": null, "scale": {"domain": ["0","0.236","0.382","0.5","0.618","0.786","1","1.618","2.618"], "range": ["#787b86","#f44336","#81c784","#4caf50","#009688","#64b5f6","#787b86","#2196f3","#f44336"]}}
}
},
{
"data": {"name": "fibLines"},
"mark": {"type": "rule", "strokeWidth": 1, "opacity": 0.9},
"encoding": {
"x": {"field": "d", "type": "ordinal", "axis": null},
"x2": {"field": "d2"},
"y": {"field": "p", "type": "quantitative", "axis": null},
"stroke": {"field": "lvl", "type": "nominal", "legend": null, "scale": {"domain": ["0","0.236","0.382","0.5","0.618","0.786","1","1.618","2.618"], "range": ["#787b86","#f44336","#81c784","#4caf50","#009688","#64b5f6","#787b86","#2196f3","#f44336"]}}
}
},
{
"data": {"name": "fibLines"},
"mark": {"type": "text", "align": "right", "baseline": "alphabetic", "dx": -6, "dy": -3, "fontSize": 11.5, "font": "Roboto"},
"encoding": {
"x": {"field": "d", "type": "ordinal", "axis": null},
"y": {"field": "p", "type": "quantitative", "axis": null},
"text": {"field": "t"},
"fill": {"field": "lvl", "type": "nominal", "legend": null, "scale": {"domain": ["0","0.236","0.382","0.5","0.618","0.786","1","1.618","2.618"], "range": ["#787b86","#f44336","#81c784","#4caf50","#009688","#64b5f6","#787b86","#2196f3","#f44336"]}}
}
},
{
"data": {"name": "fibTrend"},
"mark": {"type": "rule", "stroke": "#9598a1", "strokeDash": [5, 4], "strokeWidth": 1, "opacity": 0.8},
"encoding": {
"x": {"field": "d", "type": "ordinal", "axis": null},
"x2": {"field": "d2"},
"y": {"field": "p", "type": "quantitative", "axis": null},
"y2": {"field": "p2"}
}
},
{
"data": {"name": "tri"},
"mark": {"type": "line", "fill": "#d4379e", "fillOpacity": 0.52, "stroke": "#d4379e", "strokeWidth": 1},
"encoding": {
"x": {"field": "d", "type": "ordinal", "axis": null},
"y": {"field": "p", "type": "quantitative", "axis": null},
"detail": {"field": "g"},
"order": {"field": "k", "type": "quantitative"}
}
},
{
"data": {"name": "legs"},
"mark": {"type": "rule", "stroke": "#d4379e", "strokeWidth": 1},
"encoding": {
"x": {"field": "d", "type": "ordinal", "axis": null},
"x2": {"field": "d2"},
"y": {"field": "p", "type": "quantitative", "axis": null},
"y2": {"field": "p2"}
}
},
{
"data": {"name": "last"},
"mark": {"type": "rule", "stroke": "#f23645", "strokeDash": [1, 2], "strokeWidth": 1, "opacity": 0.85},
"encoding": {
"y": {"field": "p", "type": "quantitative", "axis": {"orient": "right", "offset": 48, "values": [], "domain": true, "domainColor": "#2a2e39", "ticks": false, "labels": false, "grid": false, "title": null}}
}
},
{
"data": {"name": "box"},
"mark": {"type": "line", "stroke": "#f23645", "strokeWidth": 1},
"encoding": {
"x": {"field": "d", "type": "ordinal", "axis": null},
"y": {"field": "p", "type": "quantitative", "axis": null},
"order": {"field": "k", "type": "quantitative"}
}
},
{
"data": {"name": "arrow"},
"mark": {"type": "rule", "stroke": "#2bd22b", "strokeWidth": 1.3},
"encoding": {
"x": {"field": "d", "type": "ordinal", "axis": null},
"x2": {"field": "d2"},
"y": {"field": "p", "type": "quantitative", "axis": null},
"y2": {"field": "p2"}
}
},
{
"data": {"name": "arrow"},
"mark": {"type": "point", "shape": "M-0.75,0.75L0,0L0.75,0.75", "filled": false, "stroke": "#2bd22b", "strokeWidth": 1.3, "size": 120, "angle": 23, "opacity": 1},
"encoding": {
"x": {"field": "d2", "type": "ordinal", "axis": null},
"y": {"field": "p2", "type": "quantitative", "axis": null}
}
},
{
"data": {"name": "tags"},
"transform": [{"filter": "datum.kind == 'letter'"}],
"mark": {"type": "point", "shape": "M-0.72,-1H0.72Q0.89,-1 0.89,-0.83V0.83Q0.89,1 0.72,1H-0.72Q-0.89,1 -0.89,0.83V-0.83Q-0.89,-1 -0.72,-1Z", "filled": true, "fill": "#d4379e", "size": 324, "opacity": 1, "strokeWidth": 0},
"encoding": {
"x": {"field": "d", "type": "ordinal", "axis": null},
"y": {"field": "p", "type": "quantitative", "axis": null}
}
},
{
"data": {"name": "tags"},
"transform": [{"filter": "datum.kind == 'ratio'"}],
"mark": {"type": "point", "shape": "M-0.92,-0.45H0.92Q1,-0.45 1,-0.37V0.37Q1,0.45 0.92,0.45H-0.92Q-1,0.45 -1,0.37V-0.37Q-1,-0.45 -0.92,-0.45Z", "filled": true, "fill": "#d4379e", "size": 1764, "opacity": 1, "strokeWidth": 0},
"encoding": {
"x": {"field": "d", "type": "ordinal", "axis": null},
"y": {"field": "p", "type": "quantitative", "axis": null}
}
},
{
"data": {"name": "tags"},
"mark": {"type": "text", "align": "center", "baseline": "middle", "fontSize": 12.5, "fontWeight": "bold", "font": "Roboto", "fill": "#ffffff"},
"encoding": {
"x": {"field": "d", "type": "ordinal", "axis": null},
"y": {"field": "p", "type": "quantitative", "axis": null},
"text": {"field": "t"}
}
},
{
"data": {"name": "caption"},
"mark": {"type": "text", "align": "left", "baseline": "middle", "dx": 5, "fontSize": 13.5, "font": "Roboto", "fill": "#b2b5be"},
"encoding": {
"x": {"field": "d", "type": "ordinal", "axis": null},
"y": {"field": "p", "type": "quantitative", "axis": null},
"text": {"field": "t"}
}
}
]
}
